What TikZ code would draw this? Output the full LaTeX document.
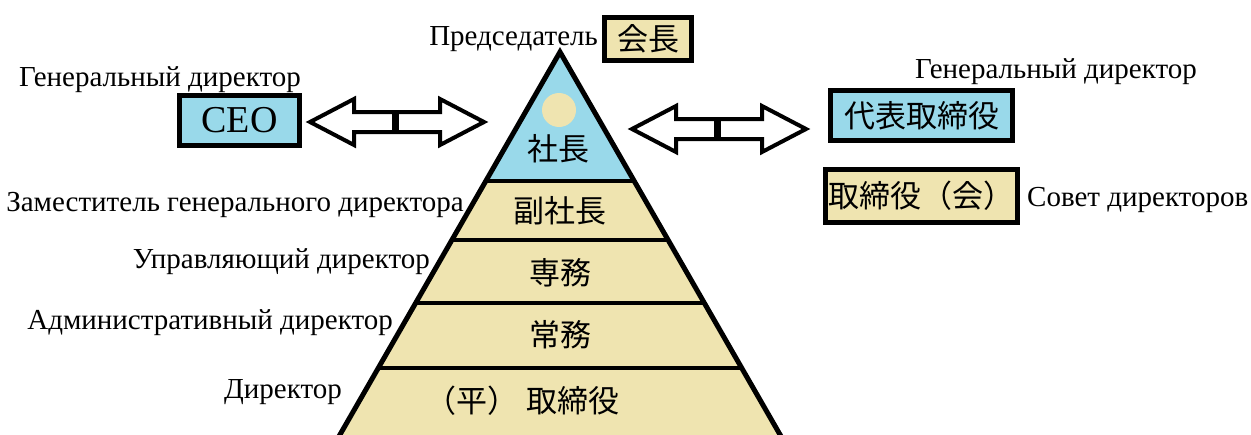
\documentclass[tikz,border=0pt]{standalone}
\usepackage{fontspec}
\setmainfont{Liberation Serif}
\newfontfamily\jp{Noto Sans CJK JP}
\definecolor{pblue}{HTML}{99D9EA}
\definecolor{ptan}{HTML}{EFE4B0}
\begin{document}
\begin{tikzpicture}[x=1pt,y=-1pt,
  lbl/.style={inner sep=0pt, font=\fontsize{29}{31}\selectfont},
  jtxt/.style={inner sep=0pt, font=\jp\fontsize{31}{33}\selectfont},
  box/.style={draw, line width=5pt, inner sep=0pt, font=\jp\fontsize{31}{33}\selectfont},
  dblarr/.pic={
    \draw[line width=4pt, fill=white, line join=miter]
      (-87,0) -- (-43,-23) -- (-43,-10) -- (43,-10) -- (43,-23) -- (87,0)
      -- (43,23) -- (43,10) -- (-43,10) -- (-43,23) -- cycle;
    \draw[line width=7pt] (-2,-10) -- (-2,10);
  }]
\useasboundingbox (0,0) rectangle (1251,434);
\fill[white] (0,0) rectangle (1251,434);
% pyramid
\coordinate (apex) at (560,52);
\begin{scope}
  \clip (0,0) rectangle (1251,434);
  \begin{scope}
    \clip (apex) -- (325.4,460) -- (794.6,460) -- cycle;
    \fill[ptan] (apex) -- (325.4,460) -- (794.6,460) -- cycle;
    \fill[pblue] (apex) -- (485.8,181) -- (634.2,181) -- cycle;
    \draw[line width=4.5pt] (300,181) -- (820,181);
    \draw[line width=4.5pt] (300,240) -- (820,240);
    \draw[line width=4.5pt] (300,303) -- (820,303);
    \draw[line width=4.5pt] (300,368) -- (820,368);
  \end{scope}
  \draw[line width=5pt, line join=miter] (apex) -- (325.4,460) -- (794.6,460) -- cycle;
\end{scope}
\node[circle, fill=ptan, minimum size=34pt, inner sep=0pt] (sun) at (559,110) {};
\node[jtxt] (shacho) at (558,149) {社長};
\node[jtxt] (fuku) at (560,211) {副社長};
\node[jtxt] (senmu) at (560,273) {専務};
\node[jtxt] (jomu) at (560,335) {常務};
\node[jtxt] (hira) at (522,401) {（平）\hspace{8pt}取締役};
% top
\node[lbl, anchor=east] (chairlbl) at (598,39) {Председатель};
\node[box, fill=ptan, minimum width=87pt, minimum height=43pt] (kaicho) at (648,39) {会長};
% left
\node[lbl] (gdl) at (160,80) {Генеральный директор};
\node[draw, line width=5pt, inner sep=0pt, fill=pblue, minimum width=120pt, minimum height=50pt,
      font=\fontsize{38}{40}\selectfont] (ceo) at (239.5,120.5) {CEO};
\pic at (397,122) {dblarr};
% right
\pic at (719,129) {dblarr};
\node[lbl] (gdr) at (1056,72) {Генеральный директор};
\node[box, fill=pblue, minimum width=182pt, minimum height=50pt] (daihyo) at (921.5,115.5) {代表取締役};
\node[box, fill=ptan, minimum width=192pt, minimum height=53pt] (torikai) at (921.5,196) {取締役（会）};
\node[lbl, anchor=west] (sovet) at (1027,200) {Совет директоров};
% left labels
\node[lbl, anchor=east] (zam) at (464,205) {Заместитель генерального директора};
\node[lbl, anchor=east] (upr) at (430,262) {Управляющий директор};
\node[lbl, anchor=east] (adm) at (393,323) {Административный директор};
\node[lbl, anchor=east] (dir) at (342,392) {Директор};
\end{tikzpicture}
\end{document}
